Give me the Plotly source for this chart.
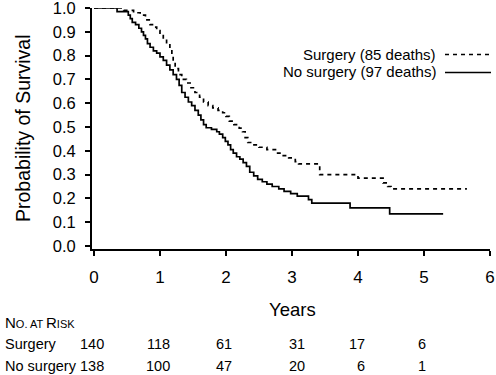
import plotly.graph_objects as go

# Kaplan-Meier step data (years, survival probability)
surg_t = [0, 0.45, 0.60, 0.70, 0.78, 0.85, 0.90, 0.95, 1.00, 1.05, 1.10, 1.15, 1.18, 1.20, 1.23,
          1.28, 1.33, 1.40, 1.47, 1.53, 1.60, 1.66, 1.73, 1.80, 1.88, 1.95, 2.00, 2.05, 2.12,
          2.20, 2.25, 2.29, 2.33, 2.40, 2.50, 2.62, 2.75, 2.85, 2.95, 3.05, 3.10, 3.42, 4.00,
          4.38, 4.45, 4.50, 5.65]
surg_s = [1.0, 0.99, 0.98, 0.97, 0.95, 0.93, 0.92, 0.905, 0.89, 0.87, 0.85, 0.83, 0.80, 0.77, 0.745,
          0.72, 0.70, 0.685, 0.665, 0.645, 0.625, 0.605, 0.59, 0.58, 0.57, 0.56, 0.545, 0.525, 0.51,
          0.495, 0.48, 0.455, 0.435, 0.425, 0.415, 0.405, 0.39, 0.38, 0.37, 0.355, 0.345, 0.30, 0.285,
          0.265, 0.25, 0.24, 0.24]

nosurg_t = [0, 0.35, 0.52, 0.55, 0.58, 0.63, 0.68, 0.72, 0.75, 0.78, 0.81, 0.85, 0.90, 0.95, 1.00,
            1.05, 1.10, 1.15, 1.20, 1.25, 1.29, 1.33, 1.38, 1.43, 1.48, 1.53, 1.58, 1.62, 1.66,
            1.70, 1.78, 1.86, 1.90, 1.95, 1.99, 2.03, 2.07, 2.11, 2.16, 2.21, 2.26, 2.31, 2.36,
            2.42, 2.48, 2.55, 2.62, 2.70, 2.80, 2.88, 2.98, 3.08, 3.25, 3.30, 3.88, 4.48, 5.29]
nosurg_s = [1.0, 0.985, 0.97, 0.955, 0.94, 0.93, 0.915, 0.90, 0.885, 0.87, 0.85, 0.835, 0.82, 0.81, 0.795,
            0.78, 0.76, 0.74, 0.72, 0.70, 0.675, 0.645, 0.625, 0.605, 0.59, 0.57, 0.55, 0.53, 0.51,
            0.497, 0.49, 0.48, 0.47, 0.455, 0.44, 0.425, 0.405, 0.39, 0.375, 0.365, 0.35, 0.335, 0.31,
            0.295, 0.28, 0.27, 0.26, 0.25, 0.24, 0.23, 0.22, 0.21, 0.195, 0.18, 0.16, 0.135, 0.135]

risk_times = [0, 1, 2, 3, 4, 5]
surg_risk = [140, 118, 61, 31, 17, 6]
nosurg_risk = [138, 100, 47, 20, 6, 1]

x_ticks = [0, 1, 2, 3, 4, 5, 6]
y_ticks = [0.0, 0.1, 0.2, 0.3, 0.4, 0.5, 0.6, 0.7, 0.8, 0.9, 1.0]

legend_labels = ["Surgery (85 deaths)", "No surgery (97 deaths)"]
row_labels = ["Surgery", "No surgery"]

FONT = "Liberation Sans, Arial, Helvetica, sans-serif"

fig = go.Figure()
fig.add_trace(go.Scatter(x=surg_t, y=surg_s, mode="lines", line_shape="hv",
                         line=dict(color="black", width=1.7, dash="4px,4px"),
                         showlegend=False))
fig.add_trace(go.Scatter(x=nosurg_t, y=nosurg_s, mode="lines", line_shape="hv",
                         line=dict(color="black", width=1.7),
                         showlegend=False))

W, H = 496, 375
L, R, T, B = 92, 6, 8, 126
pw, ph = W - L - R, H - T - B


def px_x(p):
    return (p - L) / pw


def px_y(p):
    return (H - B - p) / ph


fig.update_layout(
    width=W, height=H,
    margin=dict(l=L, r=R, t=T, b=B, autoexpand=False),
    paper_bgcolor="white", plot_bgcolor="white",
    font=dict(family=FONT, color="black"),
    xaxis=dict(range=[-0.03, 6.0], tickvals=x_ticks, ticktext=[str(v) for v in x_ticks],
               ticks="outside", ticklen=5, tickwidth=1.5, tickcolor="black",
               showline=True, linecolor="black", linewidth=1.8, showgrid=False,
               zeroline=False, tickfont=dict(size=17, family=FONT), ticklabelstandoff=7,
               automargin=False, ticklabeloverflow="allow"),
    yaxis=dict(range=[-0.0125, 1.0], tickvals=y_ticks, ticktext=[f"{v:.1f}" for v in y_ticks],
               ticks="outside", ticklen=5, tickwidth=1.5, tickcolor="black",
               showline=True, linecolor="black", linewidth=1.8, showgrid=False,
               zeroline=False, tickfont=dict(size=16.5, family=FONT), ticklabelstandoff=6,
               automargin=False, ticklabeloverflow="allow"),
)

ann = []
# Axis titles
ann.append(dict(text="Probability of Survival", xref="paper", yref="paper",
                x=px_x(23), y=px_y(128), xanchor="center", yanchor="middle",
                textangle=-90, showarrow=False, font=dict(size=19.5, family=FONT)))
ann.append(dict(text="Years", xref="x", yref="paper", x=3.0, y=px_y(309), xshift=1,
                xanchor="center", yanchor="middle", showarrow=False,
                font=dict(size=18.5, family=FONT)))

# Legend (text left of line sample)
leg_y = [55, 72]
for lbl, yy in zip(legend_labels, leg_y):
    ann.append(dict(text=lbl, xref="paper", yref="paper", x=px_x(438), y=px_y(yy),
                    xanchor="right", yanchor="middle", showarrow=False,
                    font=dict(size=15, family=FONT)))
shapes = [
    dict(type="line", xref="paper", yref="paper", x0=px_x(445), x1=px_x(491),
         y0=px_y(54.5), y1=px_y(54.5), line=dict(color="black", width=1.4, dash="4px,4px")),
    dict(type="line", xref="paper", yref="paper", x0=px_x(445), x1=px_x(491),
         y0=px_y(72.5), y1=px_y(72.5), line=dict(color="black", width=1.4)),
]

# Number at risk table
ann.append(dict(text="N<span style='font-size:11px'>O. AT </span>R<span style='font-size:11px'>ISK</span>",
                xref="paper", yref="paper", x=px_x(3), y=px_y(322.5),
                xanchor="left", yanchor="middle", showarrow=False,
                font=dict(size=15, family=FONT)))
row_y = [344, 366]
for lbl, yy in zip(row_labels, row_y):
    ann.append(dict(text=lbl, xref="paper", yref="paper", x=px_x(3), y=px_y(yy),
                    xanchor="left", yanchor="middle", showarrow=False,
                    font=dict(size=14.5, family=FONT)))
col_shift = [12, 12, 8, 15, 9, 4]
for vals, yy in zip([surg_risk, nosurg_risk], row_y):
    for t, v, sh in zip(risk_times, vals, col_shift):
        ann.append(dict(text=str(v), xref="x", yref="paper", x=t, y=px_y(yy), xshift=sh,
                        xanchor="right", yanchor="middle", showarrow=False,
                        font=dict(size=14.5, family=FONT)))

fig.update_layout(annotations=ann, shapes=shapes)
fig.write_html("out.html", config={"displayModeBar": False},
               post_script="document.body.style.margin='0';document.body.style.overflow='hidden';")
